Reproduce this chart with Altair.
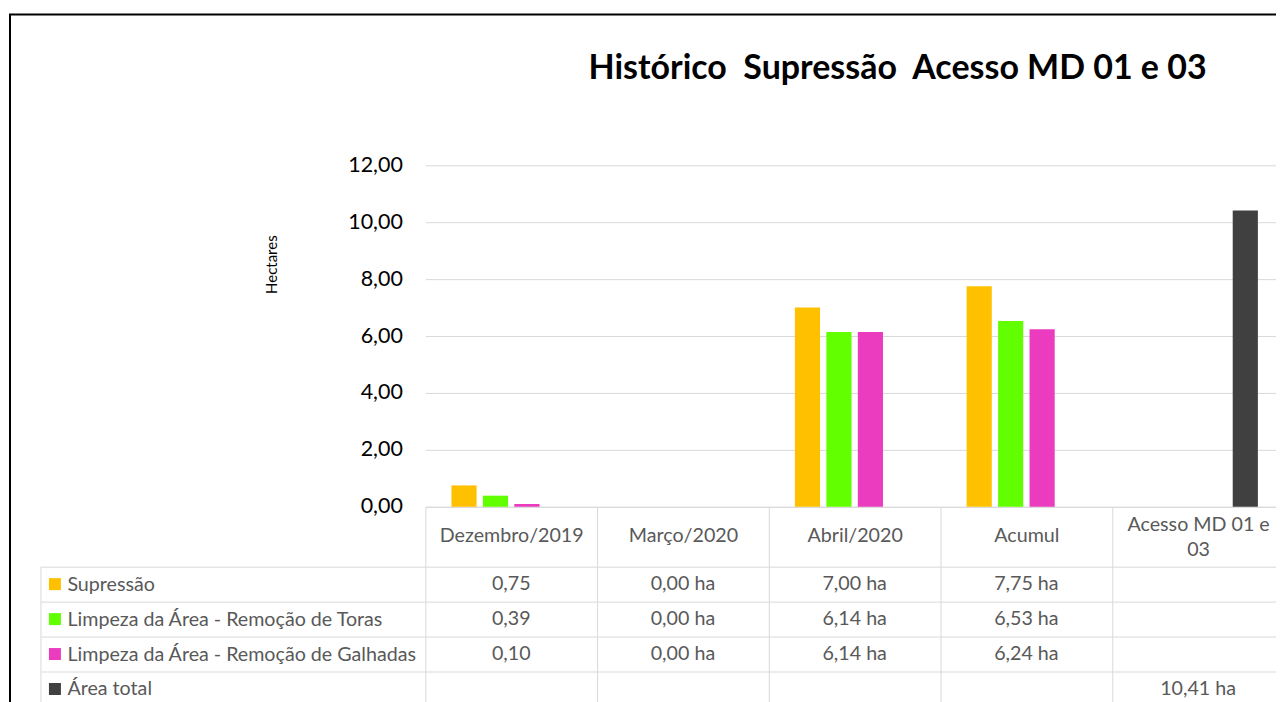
import altair as alt
import pandas as pd

categories = ["Dezembro/2019", "Março/2020", "Abril/2020", "Acumul", "Acesso MD 01 e 03"]
series = [
    "Supressão",
    "Limpeza da Área - Remoção de Toras",
    "Limpeza da Área - Remoção de Galhadas",
    "Área total",
]
supressao = [0.75, 0.00, 7.00, 7.75, None]
toras = [0.39, 0.00, 6.14, 6.53, None]
galhadas = [0.10, 0.00, 6.14, 6.24, None]
area_total = [None, None, None, None, 10.41]
units = ["", " ha", " ha", " ha", " ha"]
colors = ["#FFC000", "#62FF00", "#EB3BBE", "#404040"]
y_ticks = [0, 2, 4, 6, 8, 10, 12]

FONT = "Lato"
GRID = "#d9d9d9"
TXT = "#595959"

rows = []
for s, vals in zip(series, [supressao, toras, galhadas, area_total]):
    for c, v, u in zip(categories, vals, units):
        if v is None:
            continue
        rows.append({"cat": c, "serie": s, "value": v,
                     "label": f"{v:.2f}".replace(".", ",") + u})
df = pd.DataFrame(rows)
df_series = pd.DataFrame({"serie": series})

W, H, TH = 860, 342, 140

x_scale = alt.Scale(domain=categories, paddingInner=0, paddingOuter=0)
color_scale = alt.Scale(domain=series, range=colors)

bars = alt.Chart(df).mark_bar().encode(
    x=alt.X("cat:N", sort=categories, scale=x_scale,
            axis=alt.Axis(title=None, orient="bottom", domainColor=GRID, tickColor=GRID,
                          tickSize=60, tickBand="extent", labelAngle=0,
                          labelPadding={"condition": {"test": "datum.label == 'Acesso MD 01 e 03'", "value": -42}, "value": -31},
                          labelBaseline="middle", labelFontSize=19.7, labelColor=TXT,
                          labelFont=FONT, labelLineHeight=25, labelLimit=300,
                          labelExpr="datum.label == 'Acesso MD 01 e 03' ? ['Acesso MD 01 e', '03'] : datum.label",
                          grid=False)),
    xOffset=alt.XOffset("serie:N", sort=series,
                        scale=alt.Scale(domain=series, paddingInner=0.2, paddingOuter=0.83)),
    y=alt.Y("value:Q", scale=alt.Scale(domain=[0, 12], nice=False),
            axis=alt.Axis(values=y_ticks, title="Hectares",
                          labelExpr="replace(format(datum.value, '.2f'), '.', ',')",
                          labelFontSize=21.5, labelColor="#000000", labelFont=FONT,
                          labelPadding=23, ticks=False, domain=False, gridColor=GRID,
                          titleFontSize=15, titleFontWeight="normal", titleColor="#000000",
                          titleFont=FONT, titleX=-154, titleY=99, titleAngle=270,
                          titleAlign="center", titleBaseline="middle")),
    color=alt.Color("serie:N", scale=color_scale, legend=None),
)

top = alt.layer(bars).properties(
    width=W, height=H,
    title=alt.TitleParams("Histórico\u00a0 Supressão\u00a0 Acesso MD 01 e 03",
                          fontSize=34, font=FONT, fontWeight="bold", color="#000000",
                          anchor="middle", dx=43, offset=68),
)

tx = alt.X("cat:N", sort=categories, scale=x_scale,
           axis=alt.Axis(orient="top", grid=True, gridColor=GRID, tickBand="extent",
                         labels=False, ticks=False, domain=False, title=None))
ty = alt.Y("serie:N", sort=series, scale=alt.Scale(domain=series, paddingInner=0, paddingOuter=0),
           axis=alt.Axis(title=None, grid=True, gridColor=GRID, tickBand="extent", tickSize=385,
                         tickColor=GRID, domain=False, labelAlign="left", labelPadding=-26,
                         labelBaseline="middle", labelFontSize=19.7, labelColor=TXT,
                         labelFont=FONT, labelLimit=400))

cells = alt.Chart(df).mark_text(fontSize=19.7, color=TXT, font=FONT).encode(
    x=tx, y=ty, text="label:N")

keys = alt.Chart(df_series).mark_square(size=144, opacity=1).encode(
    x=alt.value(-371), y=ty,
    color=alt.Color("serie:N", scale=color_scale, legend=None))

border_df = pd.DataFrame({"k": [0]})
left_border = alt.Chart(border_df).mark_rule(color=GRID, strokeWidth=1).encode(
    x=alt.value(-385), y=alt.value(0), y2=alt.value(TH))
frame_left = alt.Chart(border_df).mark_rule(color="#000000", strokeWidth=2).encode(
    x=alt.value(-416), y=alt.value(-553), y2=alt.value(TH + 10))
frame_top = alt.Chart(border_df).mark_rule(color="#000000", strokeWidth=2).encode(
    x=alt.value(-417), x2=alt.value(W), y=alt.value(-553))

table = alt.layer(cells, keys, left_border, frame_left, frame_top).properties(width=W, height=TH)

chart = alt.vconcat(top, table, spacing=60, bounds="flush").resolve_scale(
    x="independent", y="independent"
).properties(
    padding={"left": 0, "top": 5, "right": -9, "bottom": 0}
).configure(font=FONT).configure_view(stroke=None)

chart.save("out.html", embed_options={"renderer": "svg", "actions": False})
